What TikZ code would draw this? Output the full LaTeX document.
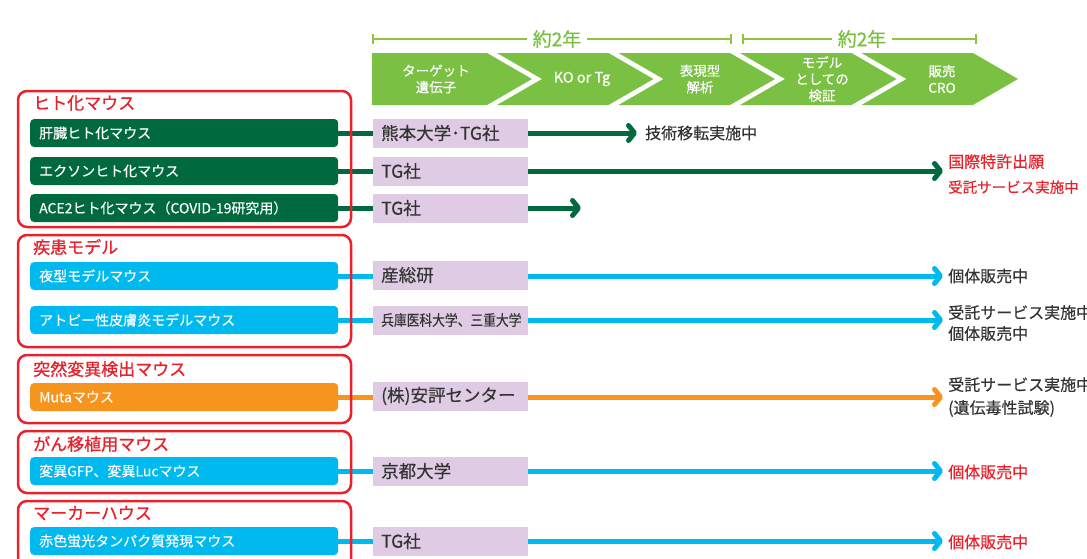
\documentclass[tikz,border=0pt]{standalone}
\usepackage{fontspec}
\setmainfont{Noto Sans CJK JP}[FakeBold=0.35]
\newfontfamily\heavyf{Noto Sans CJK JP}[FakeBold=0.9]
\usetikzlibrary{arrows.meta,calc}
\definecolor{chev}{HTML}{7AC143}
\definecolor{tline}{HTML}{8CC63F}
\definecolor{dgreen}{HTML}{006A3E}
\definecolor{mblue}{HTML}{00B9EF}
\definecolor{morange}{HTML}{F7941D}
\definecolor{mred}{HTML}{E8212B}
\definecolor{lavc}{HTML}{DFCCE4}
\definecolor{dtext}{HTML}{333333}
\newcommand{\fsz}[2]{\fontsize{#1}{#2}\selectfont}
\tikzset{
  mbox/.style={fill=#1, rounded corners=4pt, anchor=west, minimum height=28pt, text width=290pt, inner xsep=9pt, inner ysep=0pt, align=left, text=white, font=\fsz{14}{16}},
  labbox/.style={fill=lavc, anchor=west, minimum height=29pt, text width=139pt, inner xsep=8pt, inner ysep=0pt, align=left, text=dtext, font=\fsz{17.5}{19}},
  grpframe/.style={draw=mred, line width=2.5pt, rounded corners=9pt},
  grptitle/.style={anchor=west, inner sep=0pt, text=mred, font=\heavyf\fsz{17}{19}},
  conn/.style={draw=#1, line width=5pt},
  arr/.style={draw=#1, line width=5pt, -{Straight Barb[length=6pt,width=15pt,round]}},
  res/.style={anchor=west, inner sep=0pt, align=left, text=dtext, font=\fsz{16}{22}},
  chevtext/.style={text=white, align=center, font=\fsz{13.5}{16.5}, inner sep=0pt},
  spanlbl/.style={text=chev, font=\heavyf\fsz{19}{20}, inner sep=0pt},
  spanline/.style={draw=tline, line width=1.5pt},
}
\begin{document}
\begin{tikzpicture}[x=1pt,y=-1pt]
\useasboundingbox (0,0) rectangle (1087,558);
\clip (0,0) rectangle (1087,558);

% timeline spans
\coordinate (t1) at (373,39);
\coordinate (t2) at (731,39);
\coordinate (t3) at (743,39);
\coordinate (t4) at (976,39);
\node[spanlbl] (y1) at (557,39) {約2年};
\node[spanlbl] (y2) at (862,39) {約2年};
\draw[spanline] (t1) -- ([xshift=-6pt]y1.west);
\draw[spanline] ([xshift=6pt]y1.east) -- (t2);
\draw[spanline] (t3) -- ([xshift=-6pt]y2.west);
\draw[spanline] ([xshift=6pt]y2.east) -- (t4);
\foreach \t in {t1,t2,t3,t4} \draw[spanline] ([yshift=5pt]\t) -- ([yshift=-5pt]\t);

% chevrons
\fill[chev] (372,53) -- (487,53) -- (532,79) -- (487,105) -- (372,105) -- cycle;
\foreach \i in {1,...,4} {
  \pgfmathsetmacro\a{487+121.5*(\i-1)+10}
  \pgfmathsetmacro\b{487+121.5*\i}
  \fill[chev] (\a,53) -- (\b,53) -- (\b+45,79) -- (\b,105) -- (\a,105) -- (\a+45,79) -- cycle;
}
\node[chevtext] (c1) at (436,79) {ターゲット\\遺伝子};
\node[chevtext, font=\fsz{14.5}{16.5}] (c2) at (582,79) {KO or Tg};
\node[chevtext] (c3) at (700,79) {表現型\\解析};
\node[chevtext] (c4) at (822,79) {モデル\\としての\\検証};
\node[chevtext] (c5) at (942,79) {販売\\CRO};

% left boxes
\node[mbox=dgreen] (m1) at (30,133) {肝臓ヒト化マウス};
\node[mbox=dgreen] (m2) at (30,171) {エクソンヒト化マウス};
\node[mbox=dgreen] (m3) at (30,208) {ACE2ヒト化マウス（COVID-19研究用）};
\node[mbox=mblue] (m4) at (30,276) {夜型モデルマウス};
\node[mbox=mblue] (m5) at (30,320) {アトピー性皮膚炎モデルマウス};
\node[mbox=morange] (m6) at (30,397) {Mutaマウス};
\node[mbox=mblue] (m7) at (30,471) {変異GFP、変異Lucマウス};
\node[mbox=mblue] (m8) at (30,541) {赤色蛍光タンパク質発現マウス};

% institution boxes
\node[labbox] (l1) at (373,133) {熊本大学･TG社};
\node[labbox] (l2) at (373,171) {TG社};
\node[labbox] (l3) at (373,208) {TG社};
\node[labbox] (l4) at (373,275) {産総研};
\node[labbox] (l5) at (373,320) {\fsz{15}{17}\scalebox{0.85}[1]{兵庫医科大学、三重大学}};
\node[labbox] (l6) at (373,396) {(株)安評センター};
\node[labbox] (l7) at (373,471) {京都大学};
\node[labbox] (l8) at (373,541) {TG社};

% results
\node[res] (r1) at (645,133) {技術移転実施中};
\node[res, text=mred, font=\fsz{16}{25}] (r2) at (948,174) {国際特許出願\\{\fsz{14.5}{25}受託サービス実施中}};
\node[res] (r4) at (948,276) {個体販売中};
\node[res, font=\fsz{16}{21}] (r5) at (948,323) {受託サービス実施中\\個体販売中};
\node[res, font=\fsz{16}{23}] (r6) at (948,397) {受託サービス実施中\\(遺伝毒性試験)};
\node[res, text=mred] (r7) at (948,472) {個体販売中};
\node[res, text=mred] (r8) at (948,542) {個体販売中};
\coordinate (e3) at (581,208);

% connectors
\draw[conn=dgreen] (m1.east) -- (l1.west);
\draw[conn=dgreen] (m2.east) -- (l2.west);
\draw[conn=dgreen] (m3.east) -- (l3.west);
\draw[conn=mblue] (m4.east) -- (l4.west |- m4.east);
\draw[conn=mblue] (m5.east) -- (l5.west);
\draw[conn=morange] (m6.east) -- (l6.west |- m6.east);
\draw[conn=mblue] (m7.east) -- (l7.west);
\draw[conn=mblue] (m8.east) -- (l8.west);

\draw[arr=dgreen, shorten >=8pt] (l1.east) -- (l1.east -| r1.west);
\draw[arr=dgreen, shorten >=5pt] (l2.east) -- (l2.east -| r2.west);
\draw[arr=dgreen] (l3.east) -- (e3);
\draw[arr=mblue, shorten >=5pt] (m4.east -| l4.east) -- (m4.east -| r4.west);
\draw[arr=mblue, shorten >=5pt] (l5.east) -- (l5.east -| r5.west);
\draw[arr=morange, shorten >=5pt] (m6.east -| l6.east) -- (m6.east -| r6.west);
\draw[arr=mblue, shorten >=5pt] (l7.east) -- (l7.east -| r7.west);
\draw[arr=mblue, shorten >=5pt] (l8.east) -- (l8.east -| r8.west);

% group frames and titles
\draw[grpframe] (18,91) rectangle (351,227);
\draw[grpframe] (18,235) rectangle (351,347);
\draw[grpframe] (18,355) rectangle (351,423);
\draw[grpframe] (18,431) rectangle (351,493);
\draw[grpframe] (18,501) rectangle (351,590);
\node[grptitle] (g1) at (33,103) {ヒト化マウス};
\node[grptitle] (g2) at (33,247) {疾患モデル};
\node[grptitle] (g3) at (33,369) {突然変異検出マウス};
\node[grptitle] (g4) at (33,444) {がん移植用マウス};
\node[grptitle] (g5) at (33,513) {マーカーハウス};
\end{tikzpicture}
\end{document}
